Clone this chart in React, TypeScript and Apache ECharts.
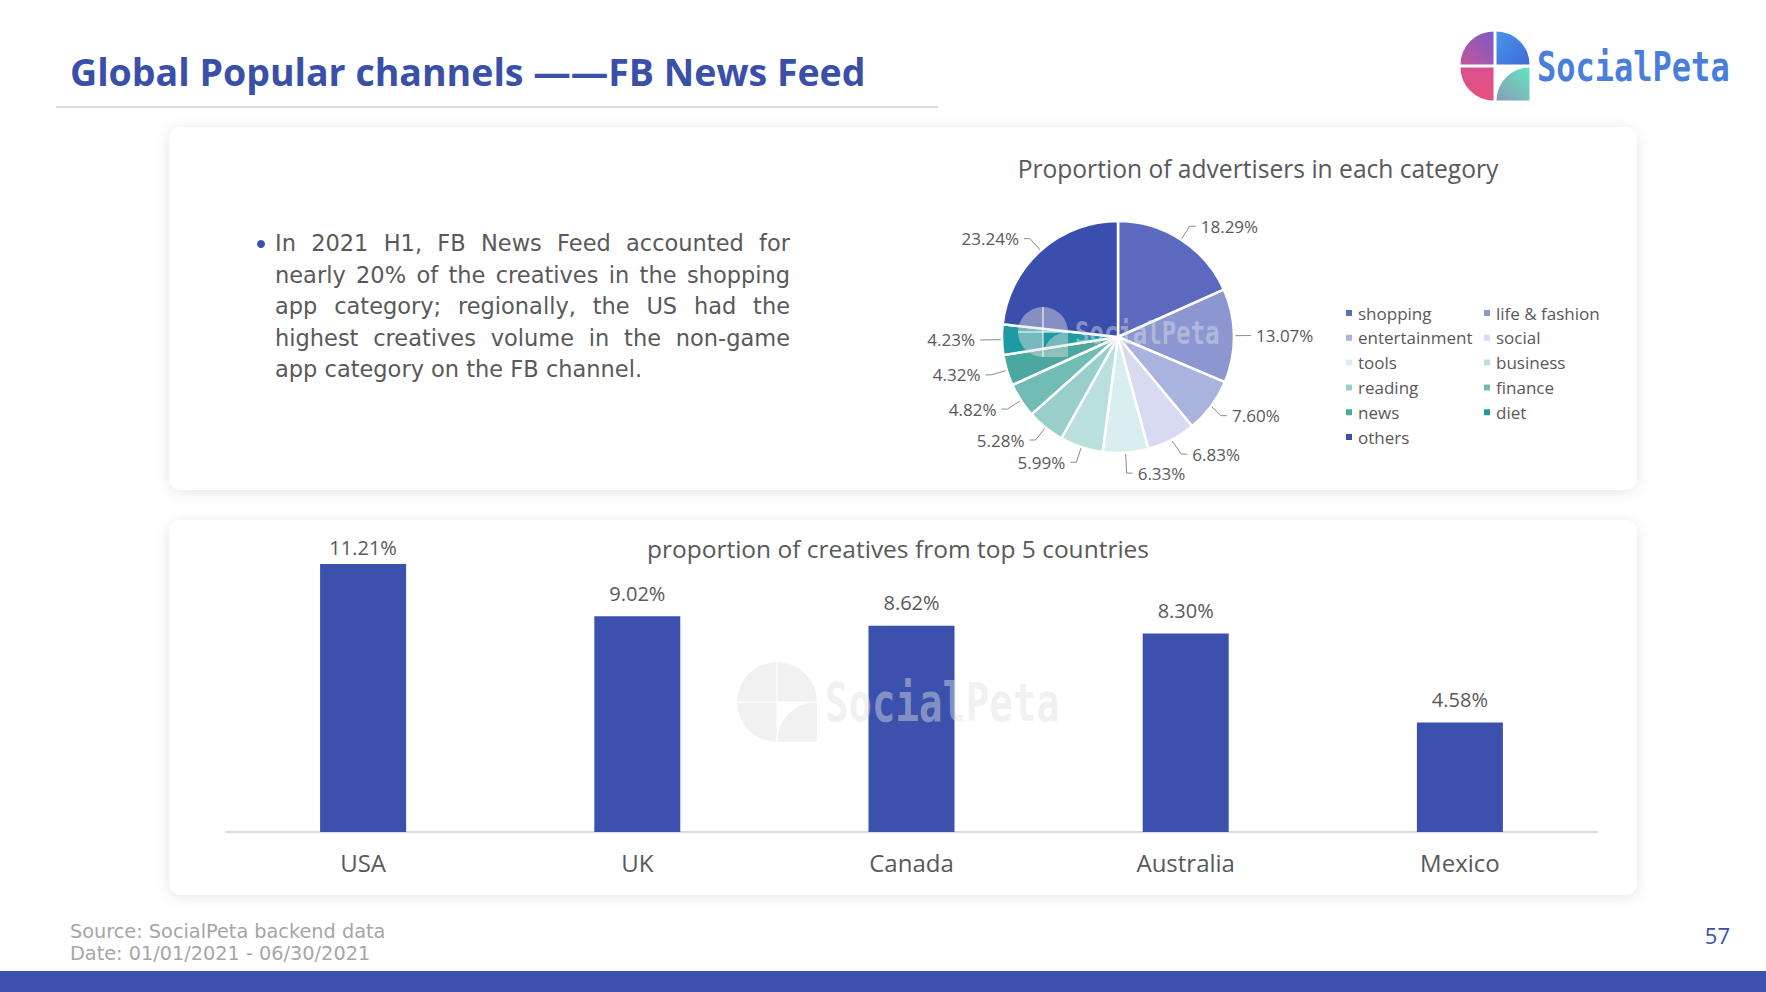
import React, { useEffect, useRef } from "react";
import * as echarts from "echarts";

const pieCategories = ["shopping", "life & fashion", "entertainment", "social", "tools", "business", "reading", "finance", "news", "diet", "others"];
const pieValues = [18.29, 13.07, 7.6, 6.83, 6.33, 5.99, 5.28, 4.82, 4.32, 4.23, 23.24];
const pieColors = ["#5b6abf", "#8c97d2", "#aab3dd", "#d7daf0", "#d9eeee", "#b9e0dc", "#98cfca", "#71bcb5", "#4aa8a0", "#1f9aa3", "#3a4fad"];
const legendCol1 = ["shopping", "entertainment", "tools", "reading", "news", "others"];
const legendCol2 = ["life & fashion", "social", "business", "finance", "diet"];

const countries = ["USA", "UK", "Canada", "Australia", "Mexico"];
const countryValues = [11.21, 9.02, 8.62, 8.3, 4.58];

const pageTitle = "Global Popular channels ——FB News Feed";
const pieTitle = "Proportion of advertisers in each category";
const barTitle = "proportion of creatives from top 5 countries";
const bulletLines = [
  "In 2021 H1, FB News Feed accounted for",
  "nearly 20% of the creatives in the shopping",
  "app category; regionally, the US had the",
  "highest creatives volume in the non-game",
  "app category on the FB channel.",
];
const footerLines = ["Source: SocialPeta backend data", "Date: 01/01/2021 - 06/30/2021"];
const pageNumber = "57";
const brand = "SocialPeta";

const FONT = "'Open Sans', 'Noto Sans', sans-serif";
const WIDE = "'DejaVu Sans', 'Open Sans', sans-serif";
const BLUE = "#3b51ad";
const GREY = "#595959";

function logo(cx: number, cy: number, R: number, mono: boolean, fillText: string, fontSize: number, textX: number, textScaleY: number, z: number) {
  const g = echarts.graphic;
  const wm = "rgba(225,225,225,0.45)";
  const fills = mono
    ? [wm, wm, wm, wm]
    : [
        new g.LinearGradient(1, 0, 0, 1, [{ offset: 0, color: "#7a5cc6" }, { offset: 1, color: "#c4559a" }]),
        new g.LinearGradient(0, 0, 1, 1, [{ offset: 0, color: "#4a95e8" }, { offset: 1, color: "#3f6ad6" }]),
        new g.LinearGradient(0, 0, 0, 1, [{ offset: 0, color: "#d9518f" }, { offset: 1, color: "#e8507f" }]),
        new g.LinearGradient(1, 0, 0, 1, [{ offset: 0, color: "#62e6bf" }, { offset: 1, color: "#8a9bb8" }]),
      ];
  const gap = mono ? 0 : 1.5;
  const children: any[] = [
    { type: "sector", z, shape: { cx: cx - gap, cy: cy - gap, r0: 0, r: R, startAngle: Math.PI, endAngle: Math.PI * 1.5 }, style: { fill: fills[0] } },
    { type: "sector", z, shape: { cx: cx + gap, cy: cy - gap, r0: 0, r: R, startAngle: Math.PI * 1.5, endAngle: Math.PI * 2 }, style: { fill: fills[1] } },
    { type: "sector", z, shape: { cx: cx - gap, cy: cy + gap, r0: 0, r: R, startAngle: Math.PI * 0.5, endAngle: Math.PI }, style: { fill: fills[2] } },
    { type: "sector", z, shape: { cx: cx + R + gap, cy: cy + R + gap, r0: 0, r: R, startAngle: Math.PI, endAngle: Math.PI * 1.5 }, style: { fill: fills[3] } },
    {
      type: "text",
      z,
      x: textX,
      y: cy + 1,
      scaleY: textScaleY,
      style: { text: fillText, fill: mono ? wm : "#4a7edb", font: `bold ${fontSize}px 'DejaVu Sans Mono', monospace`, align: "left", verticalAlign: "middle" },
    },
  ];
  if (mono) {
    children.push(
      { type: "line", z: z + 1, shape: { x1: cx - R, y1: cy, x2: cx + R, y2: cy }, style: { stroke: "rgba(255,255,255,0.5)", lineWidth: 2 } },
      { type: "line", z: z + 1, shape: { x1: cx, y1: cy - R, x2: cx, y2: cy + R }, style: { stroke: "rgba(255,255,255,0.5)", lineWidth: 2 } }
    );
  }
  return { type: "group", silent: true, children };
}

// justified paragraph: words laid out with measured widths
function justifiedLines(lines: string[], x0: number, y0: number, lineH: number, width: number, font: string, fill: string) {
  const ctx = document.createElement("canvas").getContext("2d") as CanvasRenderingContext2D;
  ctx.font = font;
  const out: any[] = [];
  lines.forEach((line, li) => {
    const y = y0 + li * lineH;
    const last = li === lines.length - 1;
    if (last) {
      out.push({ type: "text", x: x0, y, style: { text: line, fill, font, align: "left", verticalAlign: "middle" } });
      return;
    }
    const words = line.split(" ");
    const widths = words.map((w) => ctx.measureText(w).width);
    const total = widths.reduce((a, b) => a + b, 0);
    const gap = (width - total) / Math.max(1, words.length - 1);
    let x = x0;
    words.forEach((w, wi) => {
      out.push({ type: "text", x, y, style: { text: w, fill, font, align: "left", verticalAlign: "middle" } });
      x += widths[wi] + gap;
    });
  });
  return out;
}

export default function App() {
  const ref = useRef<HTMLDivElement>(null);
  useEffect(() => {
    if (!ref.current) return;
    const chart = echarts.init(ref.current, undefined, { renderer: "svg" });

    const graphics: any[] = [
      { type: "rect", z: -10, shape: { x: 169, y: 127, width: 1468, height: 363, r: 12 }, style: { fill: "#fff", shadowBlur: 14, shadowColor: "rgba(0,0,0,0.10)", shadowOffsetY: 2 } },
      { type: "rect", z: -10, shape: { x: 169, y: 520, width: 1468, height: 375, r: 12 }, style: { fill: "#fff", shadowBlur: 14, shadowColor: "rgba(0,0,0,0.10)", shadowOffsetY: 2 } },
      { type: "text", x: 70, y: 71, style: { text: pageTitle, fill: "#3a4fa8", font: `bold 37.5px ${FONT}`, align: "left", verticalAlign: "middle" } },
      { type: "line", shape: { x1: 56, y1: 107, x2: 938, y2: 107 }, style: { stroke: "#dcdcdc", lineWidth: 2 } },
      logo(1495, 66, 33, false, brand, 32, 1537, 1.3, 1),
      { type: "circle", shape: { cx: 261, cy: 244, r: 4 }, style: { fill: BLUE } },
      ...justifiedLines(bulletLines, 275, 243, 31.6, 515, `22.5px ${WIDE}`, GREY),
      ...footerLines.map((t, i) => ({
        type: "text",
        x: 70,
        y: 931 + i * 22,
        style: { text: t, fill: "#a6a6a6", font: `19.3px ${WIDE}`, align: "left", verticalAlign: "middle" },
      })),
      { type: "text", x: 1730, y: 935, style: { text: pageNumber, fill: BLUE, font: `22px ${FONT}`, align: "right", verticalAlign: "middle" } },
      { type: "rect", shape: { x: 0, y: 971, width: 1766, height: 21 }, style: { fill: BLUE } },
      logo(1043, 332, 25, true, brand, 24, 1075, 1.3, 100),
      logo(777, 702, 40, true, brand, 39, 825, 1.35, 100),
    ];

    chart.setOption({
      animation: false,
      backgroundColor: "#ffffff",
      textStyle: { fontFamily: FONT },
      title: [
        { text: pieTitle, left: 1258, top: 156, textAlign: "center", padding: 0, textStyle: { fontSize: 24.6, fontWeight: "normal", color: GREY, fontFamily: FONT } },
        { text: barTitle, left: 898, top: 536, textAlign: "center", padding: 0, textStyle: { fontSize: 24.5, fontWeight: "normal", color: GREY, fontFamily: FONT } },
      ],
      legend: [legendCol1, legendCol2].map((data, k) => ({
        data,
        orient: "vertical",
        left: k === 0 ? 1344 : 1482,
        top: 304,
        itemWidth: 8,
        itemHeight: 8,
        itemGap: 6.8,
        icon: "rect",
        padding: 0,
        selectedMode: false,
        textStyle: { fontSize: 17, color: GREY, fontFamily: FONT, lineHeight: 18 },
      })),
      grid: { left: 226, right: 169, top: 545, bottom: 160, containLabel: false },
      xAxis: {
        type: "category",
        data: countries,
        axisLine: { lineStyle: { color: "#d9d9d9", width: 2 } },
        axisTick: { show: false },
        axisLabel: { fontSize: 24, color: GREY, margin: 18, fontFamily: FONT },
      },
      yAxis: { type: "value", min: 0, max: 12, show: false, splitLine: { show: false } },
      series: [
        {
          type: "bar",
          data: countryValues.map((v, i) => (i === 0 ? { value: v, label: { distance: 6 } } : v)),
          barWidth: 86,
          itemStyle: { color: BLUE },
          label: {
            show: true,
            position: "top",
            distance: 13,
            fontSize: 20,
            color: GREY,
            fontFamily: FONT,
            formatter: (p: any) => p.value.toFixed(2) + "%",
          },
        },
        {
          type: "pie",
          center: [1118, 337],
          radius: 116,
          startAngle: 90,
          clockwise: true,
          data: pieCategories.map((name, i) => ({ name, value: pieValues[i], itemStyle: { color: pieColors[i] } })),
          itemStyle: { borderColor: "#fff", borderWidth: 2.5 },
          label: {
            show: true,
            fontSize: 17,
            color: GREY,
            fontFamily: FONT,
            formatter: (p: any) => p.value.toFixed(2) + "%",
          },
          labelLine: { show: true, length: 16, length2: 6, lineStyle: { color: "#8c8c8c", width: 1 } },
          emphasis: { disabled: true },
        },
      ],
      graphic: graphics,
    });

    return () => chart.dispose();
  }, []);

  return <div ref={ref} style={{ position: "fixed", left: 0, top: 0, width: 1766, height: 992 }} />;
}
